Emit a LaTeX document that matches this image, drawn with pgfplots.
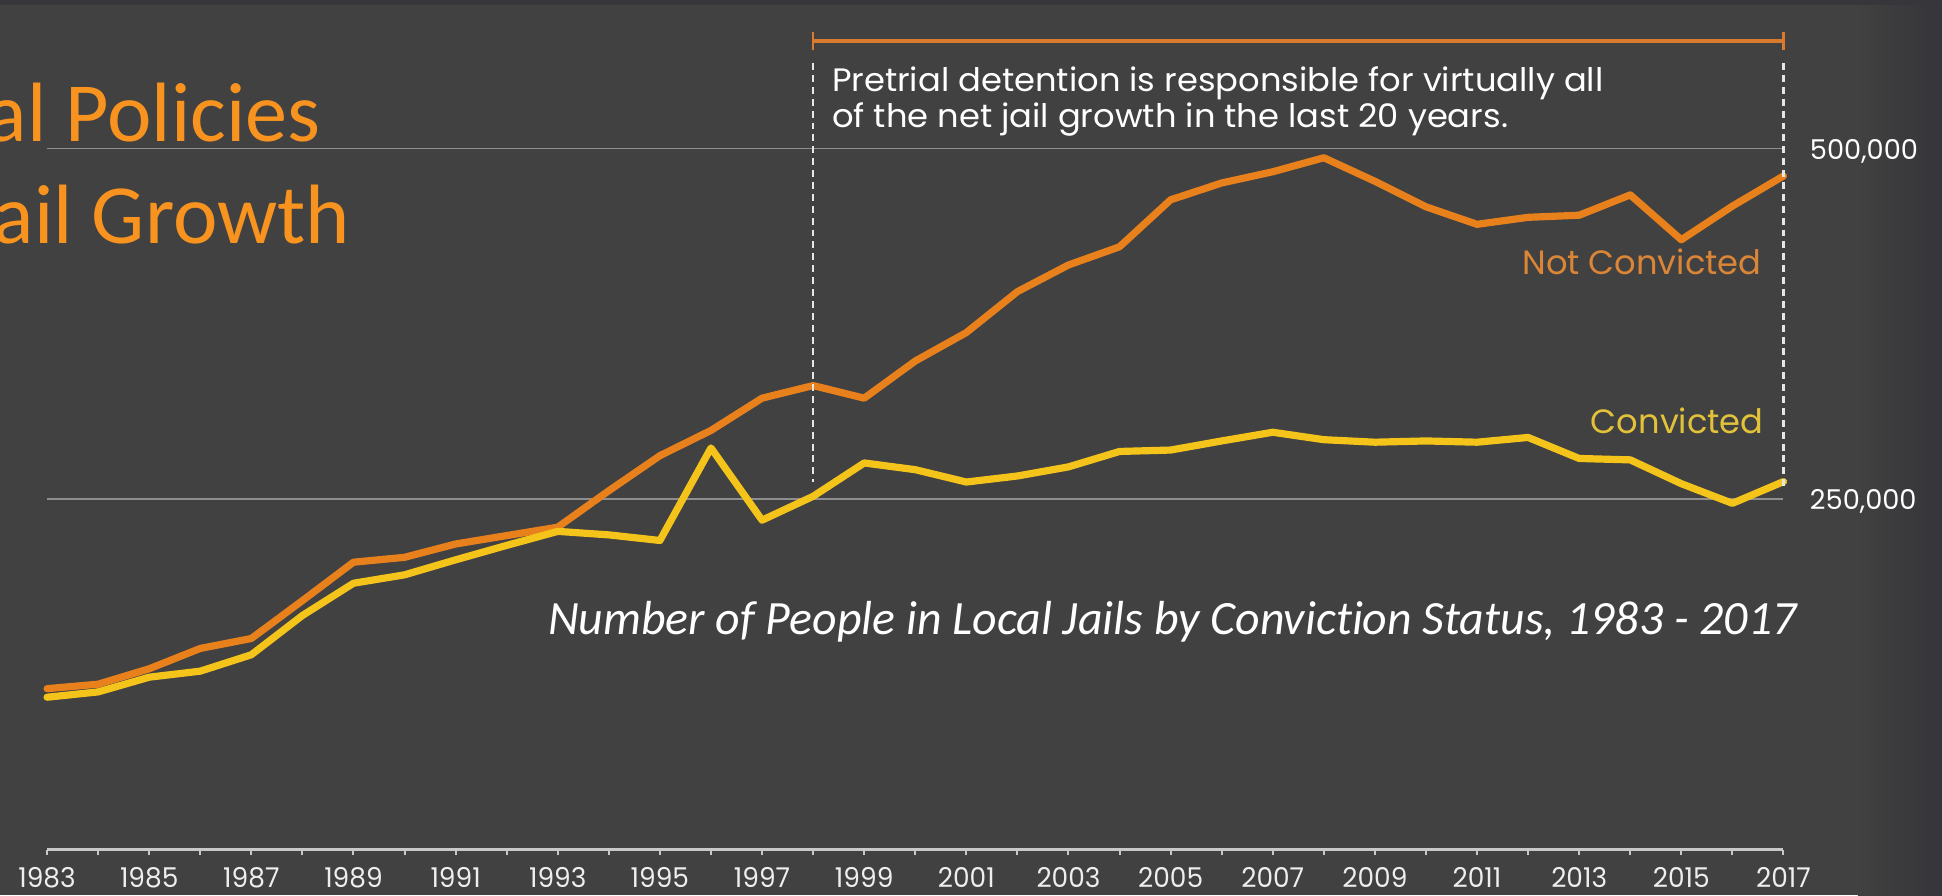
\documentclass[border=0pt]{standalone}
\usepackage{pgfplots}
\pgfplotsset{compat=1.18}
\usepackage{fontspec}
\setmainfont{Carlito}
\newfontfamily\fut{Poppins}
\newfontfamily\futw[FakeStretch=1.04]{Poppins}
\newfontfamily\futc[FakeStretch=0.97]{Poppins}
\definecolor{bg}{HTML}{414141}
\definecolor{topbg}{HTML}{37373B}
\definecolor{edge}{HTML}{35353A}
\definecolor{titleor}{HTML}{F7931E}
\definecolor{orline}{HTML}{E8801C}
\definecolor{yeline}{HTML}{F4C41A}
\definecolor{gridc}{HTML}{8E8E8E}
\definecolor{axisc}{HTML}{C8C8C8}
\definecolor{brk}{HTML}{D97A2C}
\definecolor{dashc}{HTML}{E6E6E6}
\definecolor{nclab}{HTML}{DB8536}
\definecolor{clab}{HTML}{E3C23A}
\definecolor{tickc}{HTML}{EEEEEE}

\pgfplotstableread{
year value
1983 114800
1984 118000
1985 129000
1986 143500
1987 150600
1988 177600
1989 205000
1990 208500
1991 218000
1992 224000
1993 230000
1994 256000
1995 281000
1996 299000
1997 322000
1998 331000
1999 322000
2000 348500
2001 368800
2002 398000
2003 417000
2004 430000
2005 463500
2006 475500
2007 483500
2008 493500
2009 476700
2010 458500
2011 446000
2012 451000
2013 452500
2014 467000
2015 435000
2016 459000
2017 480500
}\notconvicted

\pgfplotstableread{
year value
1983 108700
1984 112500
1985 123000
1986 127300
1987 139000
1988 167000
1989 190000
1990 196000
1991 206700
1992 217000
1993 227000
1994 224500
1995 220500
1996 286500
1997 235000
1998 252000
1999 275800
2000 271000
2001 262200
2002 266500
2003 273000
2004 284000
2005 285000
2006 291500
2007 297700
2008 292400
2009 290600
2010 291500
2011 290600
2012 294000
2013 279000
2014 278000
2015 261000
2016 247000
2017 262500
}\convicted

\begin{document}
\begin{tikzpicture}
\fill[bg] (0,0) rectangle (784pt,361.5pt);
\useasboundingbox (0,0) rectangle (784pt,361.5pt);
\shade[left color=bg, right color=edge] (750pt,0) rectangle (784pt,361.5pt);
\fill[topbg] (0,359.5pt) rectangle (784pt,361.5pt);
\node[anchor=base east, inner sep=0pt, text=titleor, font=\fontsize{34}{40}\selectfont] at (129.5pt,304.2pt) {al Policies};
\node[anchor=base east, inner sep=0pt, text=titleor, font=\fontsize{34}{40}\selectfont] at (141.5pt,263pt) {ail Growth};
\begin{axis}[
  at={(19pt,18.5pt)}, anchor=south west,
  width=701pt, height=283pt, scale only axis,
  xmin=1983, xmax=2017, ymin=0, ymax=500000,
  clip=false,
  axis line style={draw=none},
  xtick={1983,1985,...,2017},
  minor xtick={1984,1986,...,2016},
  xtick pos=left,
  tick align=outside,
  major tick length=2pt, minor tick length=2pt,
  x tick style={axisc, line width=0.8pt},
  /pgf/number format/assume math mode=true,
  /pgf/number format/1000 sep={},
  xticklabel style={font=\futc\fontsize{11}{11}\selectfont, text=tickc, inner sep=0pt, anchor=north, yshift=-4.8pt},
  scaled y ticks=false,
  ytick={250000,500000},
  yticklabels={{250,000},{500,000}},
  yticklabel pos=right,
  ytick style={draw=none},
  yticklabel style={font=\fut\fontsize{11}{11}\selectfont, text=white, anchor=west, inner sep=0pt, xshift=8.5pt, yshift=-1pt},
  ymajorgrids, grid style={gridc, line width=0.6pt},
]
\draw[axisc, line width=1pt] (axis cs:1983,0) -- (axis cs:2017,0);
\addplot[orline, line width=2.9pt, line join=round, line cap=round] table[x=year, y=value] {\notconvicted};
\addplot[yeline, line width=2.9pt, line join=round, line cap=round] table[x=year, y=value] {\convicted};
\draw[brk, line width=1.8pt] (axis cs:1998,576600) -- (axis cs:2017,576600);
\draw[brk, line width=1.1pt] (axis cs:1998,583000) -- (axis cs:1998,570500);
\draw[brk, line width=1.1pt] (axis cs:2017,583000) -- (axis cs:2017,570500);
\draw[dashc, line width=1.1pt, dash pattern=on 2.8pt off 2pt] (axis cs:1998,561000) -- (axis cs:1998,262000);
\draw[dashc, line width=1.1pt, dash pattern=on 2.8pt off 2pt] (axis cs:2017,561000) -- (axis cs:2017,258000);
\node[anchor=base west, inner sep=0pt, text=white, font=\futw\fontsize{13.1}{14}\selectfont] at (axis cs:1998.36,540700) {Pretrial detention is responsible for virtually all};
\node[anchor=base west, inner sep=0pt, text=white, font=\futw\fontsize{13.1}{14}\selectfont] at (axis cs:1998.36,515000) {of the net jail growth in the last 20 years.};
\node[anchor=base east, inner sep=0pt, text=nclab, font=\fut\fontsize{13.6}{14}\selectfont] at (axis cs:2016.58,410000) {Not Convicted};
\node[anchor=base east, inner sep=0pt, text=clab, font=\fut\fontsize{13.6}{14}\selectfont] at (axis cs:2016.62,297000) {Convicted};
\node[anchor=base west, inner sep=0pt, text=white, font=\itshape\addfontfeature{Ligatures=NoCommon}\fontsize{19.3}{21}\selectfont] at (axis cs:1992.8,153600) {Number of People in Local Jails by Conviction Status, 1983 - 2017};
\end{axis}
\end{tikzpicture}
\end{document}
